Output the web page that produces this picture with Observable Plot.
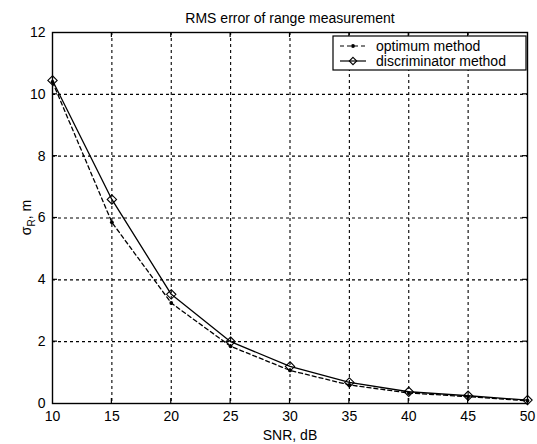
<!DOCTYPE html>
<html>
<head>
<meta charset="utf-8">
<script src="https://cdn.jsdelivr.net/npm/d3@7"></script>
<script src="https://cdn.jsdelivr.net/npm/@observablehq/plot@0.6"></script>
<style>
  html, body { margin: 0; padding: 0; background: #fff; }
  svg { display: block; }
</style>
</head>
<body>
<div id="chart"></div>
<script>
const snr = [10, 15, 20, 25, 30, 35, 40, 45, 50];
const optimum = [10.4, 5.86, 3.25, 1.85, 1.07, 0.6, 0.34, 0.22, 0.09];
const discriminator = [10.45, 6.6, 3.53, 2.0, 1.2, 0.68, 0.38, 0.25, 0.11];
const xTicks = [10, 15, 20, 25, 30, 35, 40, 45, 50];
const yTicks = [0, 2, 4, 6, 8, 10, 12];
const title = "RMS error of range measurement";
const seriesNames = ["optimum method", "discriminator method"];

const optData = snr.map((x, i) => ({x, y: optimum[i]}));
const discData = snr.map((x, i) => ({x, y: discriminator[i]}));

const font = "Liberation Sans, Arial, sans-serif";

const chart = Plot.plot({
  width: 537,
  height: 444,
  marginLeft: 52,
  marginRight: 10,
  marginTop: 32,
  marginBottom: 41,
  style: {fontFamily: font, fontSize: "14px", color: "#000", background: "#fff"},
  x: {domain: [10, 50], ticks: xTicks},
  y: {domain: [0, 12], ticks: yTicks},
  marks: [
    Plot.gridX(xTicks.slice(1, -1), {stroke: "#000", strokeOpacity: 1, strokeWidth: 1.1, strokeDasharray: "3,3"}),
    Plot.gridY(yTicks.slice(1, -1), {stroke: "#000", strokeOpacity: 1, strokeWidth: 1.1, strokeDasharray: "3,3"}),
    Plot.axisX(xTicks, {tickSize: 0, tickPadding: 8, label: "SNR, dB", labelArrow: "none", labelAnchor: "center", labelOffset: 36, fontSize: 14}),
    Plot.axisY(yTicks, {tickSize: 0, tickPadding: 7, label: null, fontSize: 14}),
    Plot.frame({stroke: "#000", strokeWidth: 1.4}),
    Plot.line(optData, {x: "x", y: "y", stroke: "#000", strokeWidth: 1.3, strokeDasharray: "4,3"}),
    Plot.dot(optData, {x: "x", y: "y", r: 1.9, fill: "#000"}),
    Plot.line(discData, {x: "x", y: "y", stroke: "#000", strokeWidth: 1.3}),
    Plot.dot(discData, {x: "x", y: "y", symbol: "diamond2", r: 4.2, stroke: "#000", strokeWidth: 1.1, fill: "none"}),
    Plot.text([title], {frameAnchor: "top", dy: -19, fontSize: 14, fill: "#000"})
  ]
});

document.getElementById("chart").appendChild(chart);

const svg = d3.select(chart);
const xs = chart.scale("x");
const ys = chart.scale("y");
const x0 = xs.apply(10), x1 = xs.apply(50);
const y0 = ys.apply(0), y1 = ys.apply(12);

// inward ticks
const tg = svg.append("g").attr("stroke", "#000").attr("stroke-width", 1.2);
xTicks.slice(1, -1).forEach(v => {
  const px = xs.apply(v);
  tg.append("line").attr("x1", px).attr("x2", px).attr("y1", y0).attr("y2", y0 - 5);
  tg.append("line").attr("x1", px).attr("x2", px).attr("y1", y1).attr("y2", y1 + 5);
});
yTicks.slice(1, -1).forEach(v => {
  const py = ys.apply(v);
  tg.append("line").attr("x1", x0).attr("x2", x0 + 5).attr("y1", py).attr("y2", py);
  tg.append("line").attr("x1", x1).attr("x2", x1 - 5).attr("y1", py).attr("y2", py);
});

// y label with subscript
const yl = svg.append("text")
  .attr("transform", `translate(31,${ys.apply(6)}) rotate(-90)`)
  .attr("text-anchor", "middle")
  .attr("font-family", font)
  .attr("font-size", 14)
  .attr("fill", "#000");
yl.append("tspan").text("σ");
yl.append("tspan").attr("font-size", 10).attr("dy", 4).text("R");
yl.append("tspan").attr("dy", -4).text(", m");

// legend
const lg = svg.append("g").attr("font-family", font).attr("font-size", 14).attr("text-anchor", "start");
const lx = 333, ly = 36, lw = 193, lh = 34;
lg.append("rect").attr("x", lx).attr("y", ly).attr("width", lw).attr("height", lh)
  .attr("fill", "#fff").attr("stroke", "#000").attr("stroke-width", 1.2);
const rows = [ly + 10, ly + 25];
lg.append("line").attr("x1", lx + 7).attr("x2", lx + 33).attr("y1", rows[0]).attr("y2", rows[0])
  .attr("stroke", "#000").attr("stroke-width", 1.2).attr("stroke-dasharray", "4,3");
lg.append("circle").attr("cx", lx + 20).attr("cy", rows[0]).attr("r", 1.9).attr("fill", "#000");
lg.append("line").attr("x1", lx + 7).attr("x2", lx + 33).attr("y1", rows[1]).attr("y2", rows[1])
  .attr("stroke", "#000").attr("stroke-width", 1.2);
lg.append("path").attr("d", d3.symbol(d3.symbolDiamond2, 4.2 * 4.2 * 2)())
  .attr("transform", `translate(${lx + 20},${rows[1]})`)
  .attr("fill", "none").attr("stroke", "#000").attr("stroke-width", 1.1);
seriesNames.forEach((name, i) => {
  lg.append("text").attr("x", lx + 43).attr("y", rows[i]).attr("dy", "0.35em")
    .attr("text-anchor", "start").attr("fill", "#000").text(name);
});
</script>
</body>
</html>
